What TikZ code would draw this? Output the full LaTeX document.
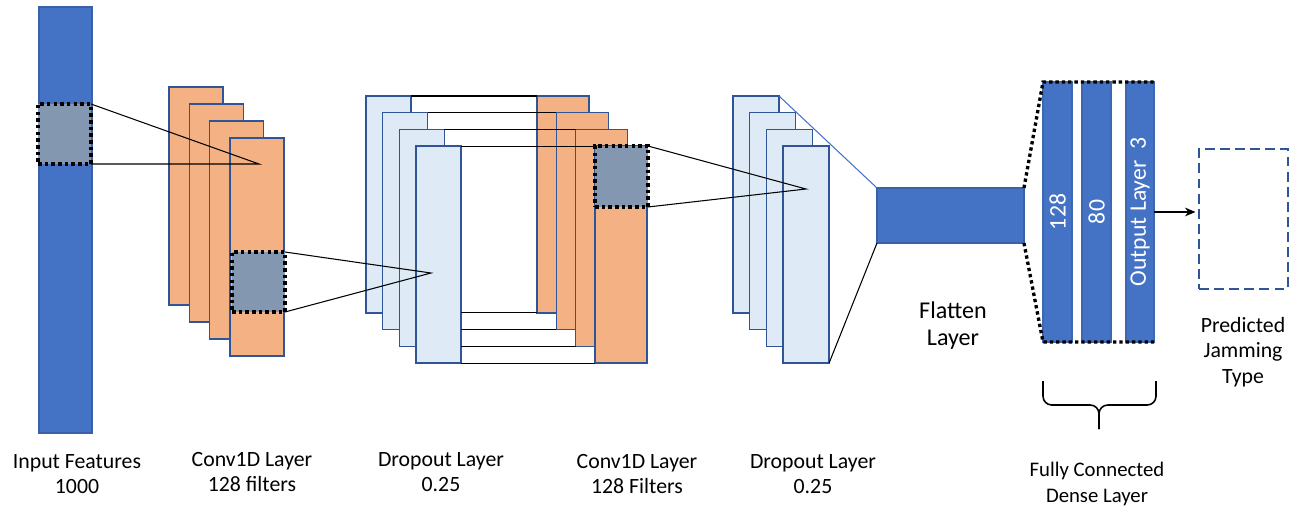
\documentclass[tikz,border=0pt]{standalone}
\usepackage{fontspec}
\setmainfont{Carlito}
\usetikzlibrary{arrows.meta}
\definecolor{myblue}{RGB}{68,114,196}
\definecolor{myedge}{RGB}{47,85,151}
\definecolor{myorange}{RGB}{244,177,131}
\definecolor{mylight}{RGB}{222,235,247}
\definecolor{mygrey}{RGB}{132,151,176}

\begin{document}
\begin{tikzpicture}[x=0.02cm,y=-0.02cm,
  lay/.style={draw=myedge,line width=0.8pt,inner sep=0pt,outer sep=0pt,anchor=north west},
  inbar/.style={lay,fill=myblue,draw=myblue!85!black,minimum width=1.06cm,minimum height=8.52cm},
  convmap/.style={lay,fill=myorange,minimum width=#1,minimum height=4.36cm},
  dropmap/.style={lay,fill=mylight,minimum width=#1,minimum height=4.34cm},
  flatbar/.style={lay,fill=myblue,draw=myblue!85!black,minimum width=2.94cm,minimum height=1.1cm},
  densebar/.style={lay,fill=myblue,draw=myblue!90!black,minimum width=#1,minimum height=5.2cm},
  patch/.style={fill=mygrey,draw=black,line width=2pt,dash pattern=on 2pt off 1.8pt,
    inner sep=0pt,outer sep=0pt,anchor=north west,minimum width=1.06cm,minimum height=1.2cm},
  outbox/.style={draw=myedge,line width=1.1pt,dash pattern=on 5.6pt off 3pt,inner sep=0pt,
    outer sep=0pt,anchor=north west,minimum width=1.78cm,minimum height=2.8cm},
  dotline/.style={draw=black,line width=1.9pt,dash pattern=on 1.9pt off 1.7pt},
  link/.style={draw=black,line width=0.6pt},
  lbl/.style={font=\fontsize{12.4}{14.4}\selectfont,align=center},
  barlbl/.style={white,rotate=90,font=\fontsize{13.5}{16}\selectfont}]

  \useasboundingbox (0,0) rectangle (1299,511);

  % input vector
  \node[inbar] (input) at (39,7) {};
  \node[patch] (patch1) at (38,104) {};

  % first conv layer
  \foreach \i in {1,...,4}
    \node[convmap=1.08cm] (conv1-\i) at ({169+20.3*(\i-1)},{87+17*(\i-1)}) {};
  \node[patch] (patch2) at (232,252) {};

  % second conv layer
  \foreach \i in {1,...,4}
    \node[convmap=1.04cm,minimum height=4.34cm] (conv2-\i) at ({537+19.3*(\i-1)},{96+16.7*(\i-1)}) {};
  \node[patch,minimum height=1.22cm] (patch3) at (595,146) {};

  % dropout layers
  \foreach \i in {1,...,4}
    \node[dropmap=0.9cm] (drop1-\i) at ({366+16.7*(\i-1)},{96+16.7*(\i-1)}) {};
  \foreach \i in {1,...,4}
    \node[dropmap=0.92cm] (drop2-\i) at ({733+16.7*(\i-1)},{96+16.7*(\i-1)}) {};

  % flatten and dense
  \node[flatbar] (flat) at (877,188) {};
  \node[densebar=0.58cm,label={[barlbl]center:128}] (dense1) at (1043,82) {};
  \node[densebar=0.58cm,label={[barlbl]center:80}] (dense2) at (1082,82) {};
  \node[densebar=0.56cm,label={[barlbl]center:Output Layer~~3}] (dense3) at (1126,82) {};
  \node[outbox] (pred) at (1199,149) {};

  \coordinate (tip1) at (259,164);
  \coordinate (tip2) at (431,273);
  \coordinate (tip3) at (806,189);

  % kernels
  \draw[link] (patch1.north east) -- (tip1) -- (patch1.south east);
  \draw[link] (patch2.north east) -- (tip2) -- (patch2.south east);
  \draw[link] (patch3.north east) -- (tip3) -- (patch3.south east);

  % frames between dropout and conv
  \foreach \i in {1,...,4}
    \draw[link] (drop1-\i.north east) -- (conv2-\i.north west)
      (drop1-4.east |- conv2-\i.south west) -- (conv2-\i.south west);

  \draw[draw=myblue,line width=0.6pt] (drop2-1.north east) -- (flat.north west);
  \draw[link] (drop2-4.south east) -- (flat.south west);

  \draw[dotline] (flat.north east) -- (dense1.north west) -- (dense3.north east);
  \draw[dotline] (flat.south east) -- (dense1.south west) -- (dense3.south east);

  \draw[link,-{Stealth[length=6pt,width=5pt]},shorten >=2pt] (dense3.east) -- (pred.west |- dense3.east);

  % brace under dense layers
  \draw[line width=0.9pt,rounded corners=5pt] (1043,381) -- (1043,405) -- (1099,405) -- (1099,429);
  \draw[line width=0.9pt,rounded corners=5pt] (1156,381) -- (1156,405) -- (1099,405) -- (1099,429);

  % labels
  \node[lbl] (l-input) at (77,474) {Input Features\\1000};
  \node[lbl] (l-conv1) at (252,472) {Conv1D Layer\\128 filters};
  \node[lbl] (l-drop1) at (441,472) {Dropout Layer\\0.25};
  \node[lbl] (l-conv2) at (637,474) {Conv1D Layer\\128 Filters};
  \node[lbl] (l-drop2) at (813,474) {Dropout Layer\\0.25};
  \node[lbl,font=\fontsize{13.7}{15.4}\selectfont] (l-flat) at (953,326) {Flatten\\Layer};
  \node[lbl,font=\fontsize{11.8}{15}\selectfont] (l-dense) at (1097,484) {Fully Connected\\Dense Layer};
  \node[lbl] (l-pred) at (1243,352) {Predicted\\Jamming\\Type};

\end{tikzpicture}
\end{document}
